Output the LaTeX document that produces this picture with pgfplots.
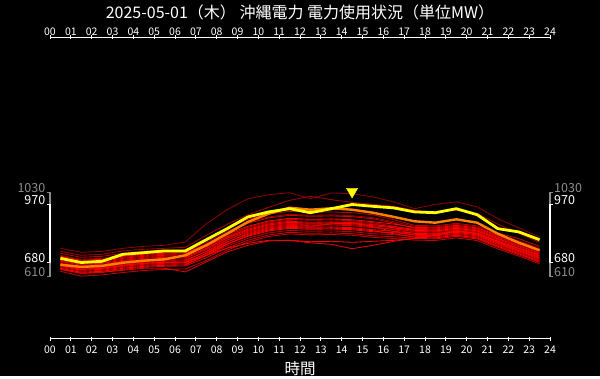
\documentclass[border=0pt]{standalone}
\usepackage{fontspec}
\setmainfont{Noto Sans CJK JP}
\usepackage{pgfplots}
\usepackage{pgfplotstable}
\pgfplotsset{compat=1.18}
\definecolor{lbl}{RGB}{140,140,140}
\definecolor{today}{RGB}{255,255,0}
\definecolor{yest}{RGB}{255,128,0}
\pgfplotstableread{
h    Y   O   A    B    C   D   E   L1  L2  L3  L4  L5  L6  L7  L8  L9  L10 L11 L12 L13 L14 L15 L16
0.5  701 669 751  736  666 646 636 726 716 711 706 701 696 691 686 681 676 671 666 661 656 651 646
1.5  680 658 731  716  646 626 612 706 696 691 686 681 676 671 666 661 656 651 646 641 636 631 626
2.5  686 663 736  721  651 631 618 711 701 696 691 686 681 676 671 666 661 656 651 646 641 636 631
3.5  721 679 751  738  666 641 630 726 716 711 706 701 696 691 686 681 676 671 666 661 656 651 646
4.5  729 689 761  746  676 651 640 736 726 721 716 711 706 701 696 691 686 681 676 671 666 661 656
5.5  738 696 766  751  681 651 645 741 731 726 721 716 711 706 701 696 691 686 681 676 671 666 661
6.5  738 716 783  756  681 633 648 743 733 728 723 718 713 708 703 698 693 688 683 678 673 668 663
7.5  794 766 874  816  716 683 690 793 781 771 773 759 759 751 744 748 734 736 724 726 714 716 704
8.5  849 824 944  871  751 733 742 849 836 821 829 808 813 801 793 804 783 791 773 781 763 771 753
9.5  908 883 999  919  776 766 782 896 881 861 876 846 856 841 831 851 821 836 811 826 801 816 791
10.5 933 924 1019 956  791 788 810 923 908 888 903 873 883 868 858 878 848 863 838 853 828 843 818
11.5 949 954 1029 991  791 791 823 936 921 901 916 886 896 881 871 891 861 876 851 866 841 856 831
12.5 929 944 999  1011 784 778 818 931 916 896 911 881 891 876 866 856 856 871 846 861 836 851 826
13.5 949 951 1028 994  786 771 820 933 918 898 913 883 893 878 868 878 858 873 848 873 838 853 828
14.5 970 944 1024 981  781 749 816 929 914 894 909 879 889 874 864 884 854 869 844 879 834 849 824
15.5 961 929 1008 971  786 766 806 919 904 884 899 869 879 864 854 874 844 859 834 859 824 839 814
16.5 953 908 983  961  791 786 800 894 884 872 877 859 862 854 847 854 836 844 829 834 819 824 809
17.5 933 886 949  941  801 801 792 866 861 856 851 846 841 841 836 831 826 826 821 816 811 806 801
18.5 929 879 971  931  816 821 790 863 858 853 848 843 838 838 833 828 823 823 818 813 808 803 798
19.5 949 896 983  941  836 841 803 876 871 866 861 856 851 851 846 841 836 836 831 826 821 816 811
20.5 919 879 958  926  826 826 790 863 858 853 848 843 838 838 833 828 823 823 818 813 808 803 798
21.5 849 824 899  871  786 781 748 828 821 816 811 806 801 798 793 788 783 781 776 771 766 761 756
22.5 833 779 853  826  751 741 712 799 789 784 779 774 769 764 759 754 749 744 739 734 729 724 719
23.5 794 741 808  781  716 706 674 761 751 746 741 736 731 726 721 716 711 706 701 696 691 686 681
}\datatable
\pgfplotsset{
  common/.style={
    at={(0,0)}, anchor=south west,
    scale only axis, width=500bp, height=301bp,
    xmin=0, xmax=24, ymin=300, ymax=1805,
    axis y line=none,
    x axis line style={white, line width=1.2bp},
    xtick={0,1,...,24},
    xticklabels={00,01,02,03,04,05,06,07,08,09,10,11,12,13,14,15,16,17,18,19,20,21,22,23,24},
    tick style={white, line width=0.9bp},
    major tick length=4bp, tick align=center,
    clip=false,
    /pgf/number format/assume math mode=true,
  },
  rl/.style={line width=0.85bp, line join=round},
}
\begin{document}
\begin{tikzpicture}
\fill[black] (-50bp,-37.5bp) rectangle (550bp,338.5bp);
\begin{axis}[common,
  axis x line*=bottom,
  xticklabel style={white, font=\fontsize{10.5bp}{12bp}\selectfont, anchor=base, yshift=-13.2bp},
]
\addplot[rl, color={rgb,255:red,140;green,0;blue,0}] table[x=h,y=A] {\datatable};
\addplot[rl, color={rgb,255:red,165;green,0;blue,0}] table[x=h,y=B] {\datatable};
\addplot[rl, color={rgb,255:red,150;green,0;blue,0}] table[x=h,y=L2] {\datatable};
\addplot[rl, color={rgb,255:red,160;green,0;blue,0}] table[x=h,y=L9] {\datatable};
\addplot[rl, color={rgb,255:red,180;green,0;blue,0}] table[x=h,y=L6] {\datatable};
\addplot[rl, color={rgb,255:red,190;green,0;blue,0}] table[x=h,y=L1] {\datatable};
\addplot[rl, color={rgb,255:red,190;green,0;blue,0}] table[x=h,y=L14] {\datatable};
\addplot[rl, color={rgb,255:red,200;green,0;blue,0}] table[x=h,y=E] {\datatable};
\addplot[rl, color={rgb,255:red,200;green,0;blue,0}] table[x=h,y=L11] {\datatable};
\addplot[rl, color={rgb,255:red,210;green,0;blue,0}] table[x=h,y=L4] {\datatable};
\addplot[rl, color={rgb,255:red,215;green,0;blue,0}] table[x=h,y=L16] {\datatable};
\addplot[rl, color={rgb,255:red,220;green,0;blue,0}] table[x=h,y=L8] {\datatable};
\addplot[rl, color={rgb,255:red,230;green,0;blue,0}] table[x=h,y=D] {\datatable};
\addplot[rl, color={rgb,255:red,230;green,0;blue,0}] table[x=h,y=L13] {\datatable};
\addplot[rl, color={rgb,255:red,235;green,0;blue,0}] table[x=h,y=L5] {\datatable};
\addplot[rl, color={rgb,255:red,245;green,0;blue,0}] table[x=h,y=L10] {\datatable};
\addplot[rl, color={rgb,255:red,255;green,0;blue,0}] table[x=h,y=C] {\datatable};
\addplot[rl, color={rgb,255:red,255;green,0;blue,0}] table[x=h,y=L3] {\datatable};
\addplot[rl, color={rgb,255:red,255;green,0;blue,0}] table[x=h,y=L7] {\datatable};
\addplot[rl, color={rgb,255:red,255;green,0;blue,0}] table[x=h,y=L12] {\datatable};
\addplot[rl, color={rgb,255:red,255;green,0;blue,0}] table[x=h,y=L15] {\datatable};
\addplot[color=yest, line width=2.4bp, line join=round] table[x=h,y=O] {\datatable};
\addplot[color=today, line width=2.8bp, line join=round] table[x=h,y=Y] {\datatable};
\addplot[only marks, mark=triangle*, mark size=6.5bp, color=today, mark options={yshift=13bp, rotate=180}] coordinates {(14.5,970)};
% left bracket
\draw[lbl, line width=1.6bp] ([xshift=-3bp]axis cs:0,1030) -- (axis cs:0,1030) -- (axis cs:0,610) -- ([xshift=-3bp]axis cs:0,610);
\draw[white, line width=1.6bp] ([xshift=-3bp]axis cs:0,970) -- (axis cs:0,970) -- (axis cs:0,680) -- ([xshift=-3bp]axis cs:0,680);
\node[lbl, anchor=base east, inner sep=0pt, font=\fontsize{12.5bp}{14bp}\selectfont] at ([xshift=-4.5bp]axis cs:0,1030) {1030};
\node[white, anchor=base east, inner sep=0pt, font=\fontsize{12.5bp}{14bp}\selectfont] at ([xshift=-4.5bp]axis cs:0,970) {970};
\node[white, anchor=base east, inner sep=0pt, font=\fontsize{12.5bp}{14bp}\selectfont] at ([xshift=-4.5bp]axis cs:0,680) {680};
\node[lbl, anchor=base east, inner sep=0pt, font=\fontsize{12.5bp}{14bp}\selectfont] at ([xshift=-4.5bp]axis cs:0,610) {610};
% right bracket
\draw[lbl, line width=1.6bp] ([xshift=3bp]axis cs:24,1030) -- (axis cs:24,1030) -- (axis cs:24,610) -- ([xshift=3bp]axis cs:24,610);
\draw[white, line width=1.6bp] ([xshift=3bp]axis cs:24,970) -- (axis cs:24,970) -- (axis cs:24,680) -- ([xshift=3bp]axis cs:24,680);
\node[lbl, anchor=base west, inner sep=0pt, font=\fontsize{12.5bp}{14bp}\selectfont] at ([xshift=4bp]axis cs:24,1030) {1030};
\node[white, anchor=base west, inner sep=0pt, font=\fontsize{12.5bp}{14bp}\selectfont] at ([xshift=4bp]axis cs:24,970) {970};
\node[white, anchor=base west, inner sep=0pt, font=\fontsize{12.5bp}{14bp}\selectfont] at ([xshift=4bp]axis cs:24,680) {680};
\node[lbl, anchor=base west, inner sep=0pt, font=\fontsize{12.5bp}{14bp}\selectfont] at ([xshift=4bp]axis cs:24,610) {610};
\node[white, font=\fontsize{15.5bp}{17bp}\selectfont] at ([yshift=-29.7bp]rel axis cs:0.5,0) {時間};
\end{axis}
\begin{axis}[common,
  axis x line*=top,
  xticklabel style={white, font=\fontsize{10.5bp}{12bp}\selectfont, anchor=base, yshift=-0.3bp},
]
\node[white, font=\fontsize{16bp}{18bp}\selectfont] at ([yshift=24.7bp]rel axis cs:0.5,1) {2025-05-01（木） 沖縄電力 電力使用状況（単位MW）};
\end{axis}
\end{tikzpicture}
\end{document}
